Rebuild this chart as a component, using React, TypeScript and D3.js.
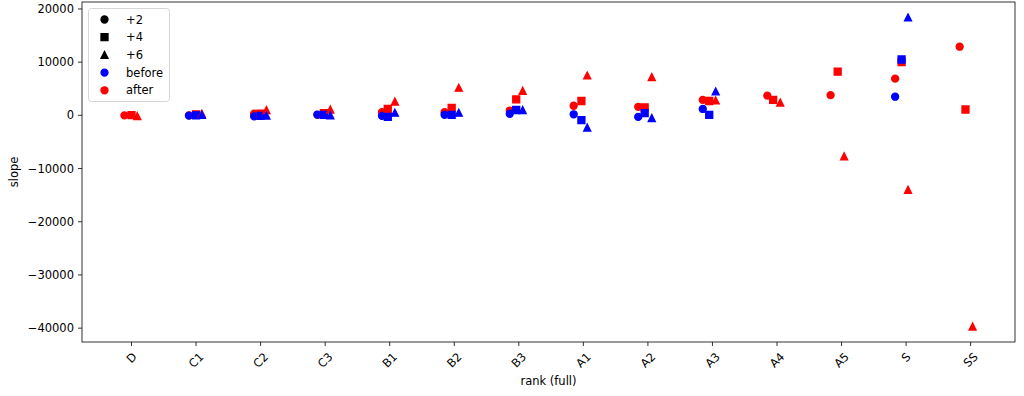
import { useEffect, useRef } from "react";
import * as d3 from "d3";

// categories on the x axis
const ranks = ["D", "C1", "C2", "C3", "B1", "B2", "B3", "A1", "A2", "A3", "A4", "A5", "S", "SS"];

// horizontal jitter (in category units) for each marker type
const jitter2 = [-0.11, -0.11, -0.1, -0.12, -0.12, -0.15, -0.14, -0.15, -0.15, -0.15, -0.15, -0.17, -0.17, -0.17];
const jitter4 = [0, 0, 0, -0.02, -0.03, -0.04, -0.04, -0.03, -0.05, -0.05, -0.06, -0.06, -0.07, -0.08];
const jitter6 = [0.09, 0.09, 0.09, 0.08, 0.08, 0.07, 0.06, 0.06, 0.06, 0.05, 0.05, 0.04, 0.03, 0.03];

// slope values, null = no point
const before2 = [null, -50, -200, 150, -100, 100, 300, 200, -300, 1200, null, null, 3500, null];
const before4 = [null, 0, -100, 100, -300, 100, 1000, -900, 400, 100, null, null, 10500, null];
const before6 = [null, 100, -50, 0, 500, 500, 1000, -2300, -500, 4500, null, null, 18400, null];
const after2 = [0, 0, 300, 100, 600, 600, 900, 1800, 1600, 2900, 3700, 3800, 6900, 12900];
const after4 = [30, 200, 300, 400, 1200, 1400, 3000, 2700, 1500, 2700, 2900, 8200, 10000, 1100];
const after6 = [-150, 300, 1000, 1100, 2600, 5200, 4600, 7500, 7200, 2800, 2400, -7700, -14000, -39700];

const yTicks = [20000, 10000, 0, -10000, -20000, -30000, -40000];

type Shape = "circle" | "square" | "triangle";

const W = 1024, H = 396;
const margin = { left: 82, right: 1015, top: 2, bottom: 342 };
const FONT = "'DejaVu Sans', sans-serif";
const FS = 11.5;
const MS = 6.9;

function markerPath(shape: Shape, s: number): string {
  const h = s / 2;
  if (shape === "circle") {
    return `M${h},0A${h},${h} 0 1,1 ${-h},0A${h},${h} 0 1,1 ${h},0Z`;
  }
  if (shape === "square") {
    return `M${-h},${-h}H${h}V${h}H${-h}Z`;
  }
  return `M0,${-h}L${h},${h}L${-h},${h}Z`;
}

const App = () => {
  const ref = useRef<SVGSVGElement>(null);

  useEffect(() => {
    if (!ref.current) return;
    const svg = d3.select(ref.current);
    svg.selectAll("*").remove();

    const series = [
      { shape: "circle" as Shape, jitter: jitter2, after: after2, before: before2 },
      { shape: "square" as Shape, jitter: jitter4, after: after4, before: before4 },
      { shape: "triangle" as Shape, jitter: jitter6, after: after6, before: before6 },
    ];

    const xs: number[] = [];
    const ys: number[] = [];
    series.forEach(s => {
      ranks.forEach((_, i) => {
        xs.push(i + s.jitter[i]);
        [s.after[i], s.before[i]].forEach(v => { if (v !== null) ys.push(v); });
      });
    });
    const [x0, x1] = d3.extent(xs) as [number, number];
    const [y0, y1] = d3.extent(ys) as [number, number];
    const xm = (x1 - x0) * 0.05, ym = (y1 - y0) * 0.05;

    const x = d3.scaleLinear().domain([x0 - xm, x1 + xm]).range([margin.left, margin.right]);
    const y = d3.scaleLinear().domain([y0 - ym, y1 + ym]).range([margin.bottom, margin.top]);

    const plot = svg.append("g");
    series.forEach(s => {
      [{ vals: s.after, color: "#ff0000" }, { vals: s.before, color: "#0000ff" }].forEach(grp => {
        const pts = ranks.map((_, i) => ({ i, v: grp.vals[i] })).filter(d => d.v !== null);
        plot.selectAll(null)
          .data(pts)
          .join("path")
          .attr("d", markerPath(s.shape, MS))
          .attr("transform", d => `translate(${x(d.i + s.jitter[d.i])},${y(d.v as number)})`)
          .attr("fill", grp.color)
          .attr("stroke", grp.color)
          .attr("stroke-width", 1.4)
          .attr("stroke-linejoin", "miter");
      });
    });

    // frame
    svg.append("rect")
      .attr("x", margin.left).attr("y", margin.top)
      .attr("width", margin.right - margin.left).attr("height", margin.bottom - margin.top)
      .attr("fill", "none").attr("stroke", "#000").attr("stroke-width", 0.8);

    // y axis
    const yAxis = svg.append("g");
    yTicks.forEach(t => {
      const yy = y(t);
      yAxis.append("line")
        .attr("x1", margin.left - 4).attr("x2", margin.left)
        .attr("y1", yy).attr("y2", yy)
        .attr("stroke", "#000").attr("stroke-width", 0.8);
      yAxis.append("text")
        .attr("x", margin.left - 8).attr("y", yy)
        .attr("text-anchor", "end").attr("dominant-baseline", "central")
        .attr("font-family", FONT).attr("font-size", FS)
        .text(String(t).replace("-", "\u2212"));
    });

    // x axis
    const xAxis = svg.append("g");
    ranks.forEach((r, i) => {
      const xx = x(i);
      xAxis.append("line")
        .attr("x1", xx).attr("x2", xx)
        .attr("y1", margin.bottom).attr("y2", margin.bottom + 4)
        .attr("stroke", "#000").attr("stroke-width", 0.8);
      const t = xAxis.append("text")
        .attr("text-anchor", "middle").attr("dominant-baseline", "central")
        .attr("font-family", FONT).attr("font-size", FS)
        .text(r);
      const w = (t.node() as SVGTextElement).getComputedTextLength();
      const bh = (w + FS * 1.16) * Math.SQRT1_2;
      t.attr("transform", `translate(${xx},${margin.bottom + 8 + bh / 2}) rotate(-45)`);
    });

    svg.append("text")
      .attr("x", (margin.left + margin.right) / 2).attr("y", 385)
      .attr("text-anchor", "middle")
      .attr("font-family", FONT).attr("font-size", FS)
      .text("rank (full)");

    svg.append("text")
      .attr("transform", `translate(18,${(margin.top + margin.bottom) / 2}) rotate(-90)`)
      .attr("text-anchor", "middle")
      .attr("font-family", FONT).attr("font-size", FS)
      .text("slope");

    // legend
    const legendItems = [
      { label: "+2", shape: "circle" as Shape, color: "#000" },
      { label: "+4", shape: "square" as Shape, color: "#000" },
      { label: "+6", shape: "triangle" as Shape, color: "#000" },
      { label: "before", shape: "circle" as Shape, color: "#0000ff" },
      { label: "after", shape: "circle" as Shape, color: "#ff0000" },
    ];
    const lg = svg.append("g");
    lg.append("rect")
      .attr("x", 88.5).attr("y", 8.5).attr("width", 81).attr("height", 93)
      .attr("rx", 3).attr("fill", "#fff").attr("fill-opacity", 0.8)
      .attr("stroke", "#cccccc").attr("stroke-width", 0.8);
    legendItems.forEach((d, i) => {
      const ly = 19.5 + i * 17.7;
      lg.append("path")
        .attr("d", markerPath(d.shape, MS))
        .attr("transform", `translate(104.5,${ly})`)
        .attr("fill", d.color).attr("stroke", d.color).attr("stroke-width", 1.4);
      lg.append("text")
        .attr("x", 126).attr("y", ly)
        .attr("dominant-baseline", "central")
        .attr("font-family", FONT).attr("font-size", FS)
        .text(d.label);
    });
  }, []);

  return (
    <svg ref={ref} width={W} height={H}
      style={{ position: "absolute", left: 0, top: 0, background: "#fff" }} />
  );
};

export default App;
